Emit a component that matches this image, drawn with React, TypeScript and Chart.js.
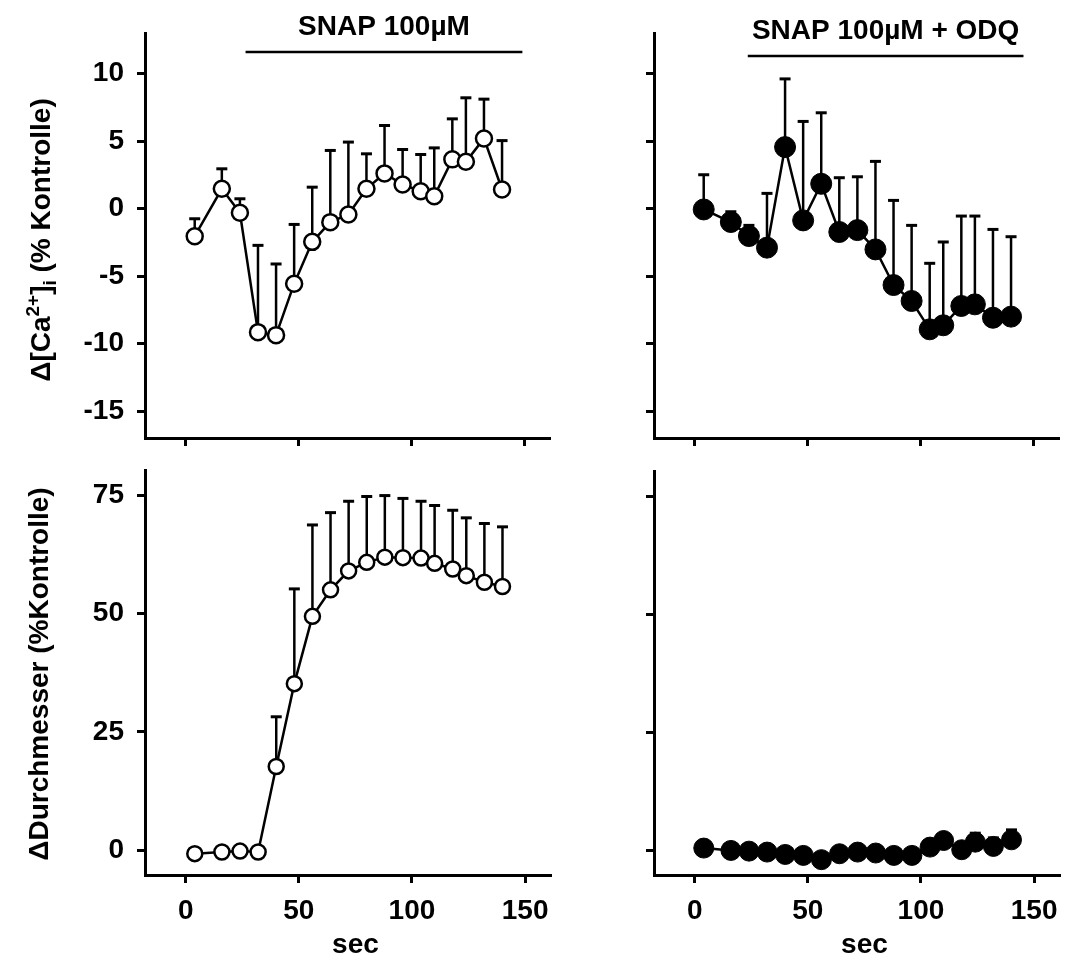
import React, { useEffect, useRef } from "react";
import { Chart, registerables } from "chart.js";

Chart.register(...registerables);

// ---------- data ----------
const timeSec = [4, 16, 24, 32, 40, 48, 56, 64, 72, 80, 88, 96, 104, 110, 118, 124, 132, 140];

const caSnapMean = [-2.05, 1.46, -0.32, -9.16, -9.38, -5.57, -2.47, -1.01, -0.44, 1.46, 2.6, 1.78, 1.28, 0.91, 3.64, 3.46, 5.19, 1.41];
const caSnapSem = [1.29, 1.48, 1.04, 6.43, 5.27, 4.39, 4.05, 5.31, 5.36, 2.59, 3.55, 2.59, 2.72, 3.58, 3.0, 4.74, 2.91, 3.62];

const caOdqMean = [-0.07, -1.0, -2.04, -2.9, 4.55, -0.88, 1.83, -1.74, -1.6, -3.03, -5.67, -6.85, -8.95, -8.65, -7.22, -7.1, -8.09, -8.01];
const caOdqSem = [2.57, 0.76, 0.79, 4.02, 5.05, 7.33, 5.26, 4.02, 3.95, 6.52, 6.27, 5.6, 4.89, 6.17, 6.66, 6.54, 6.54, 5.92];

const diamSnapMean = [-0.7, -0.35, -0.15, -0.35, 17.7, 35.2, 49.4, 55.0, 59.0, 60.8, 61.9, 61.8, 61.7, 60.6, 59.4, 58.0, 56.6, 55.7];
const diamSnapSem = [0.5, 0.5, 0.5, 0.5, 10.5, 20.0, 19.3, 16.3, 14.7, 13.9, 13.0, 12.5, 12.0, 12.2, 12.4, 12.2, 12.4, 12.6];

const diamOdqMean = [0.5, 0, -0.15, -0.35, -0.85, -1.05, -1.95, -0.7, -0.35, -0.55, -1.05, -1.05, 0.7, 2.1, 0.15, 1.75, 0.85, 2.25];
const diamOdqSem = [0.5, 0.5, 0.5, 0.5, 0.5, 0.5, 0.5, 0.5, 0.5, 0.5, 0.5, 0.5, 0.5, 0.5, 0.5, 1.9, 1.8, 2.1];

const timeTicks = [0, 50, 100, 150];
const caTicks = [-15, -10, -5, 0, 5, 10];
const diamTicks = [0, 25, 50, 75];

const snapPeriod = [26.5, 149];
const odqPeriod = [23.5, 145.5];

const snapTitle = "SNAP 100µM";
const odqTitle = "SNAP 100µM + ODQ";
const xAxisTitle = "sec";

// ---------- styling ----------
const FONT = '"Liberation Sans", Arial, Helvetica, sans-serif';
const SIZE = 28;
const fontStr = (size: number) => `bold ${size}px ${FONT}`;

type Run = { text: string; size: number; dy: number };
type Area = { left: number; top: number; right: number; bottom: number };
type PanelProps = {
  pos: { left: number; top: number; width: number; height: number };
  area: Area;
  yMin: number;
  yMax: number;
  yTicks: number[];
  mean: number[];
  sem: number[];
  filled: boolean;
  radius: number;
  showXLabels: boolean;
  showYLabels: boolean;
  yTitle?: { runs: Run[]; baselineX: number; centerY: number };
  header?: { text: string; period: number[]; barY: number; textBaseline: number };
  xTitle?: { text: string; at: number; baseline: number };
};

function drawRuns(ctx: CanvasRenderingContext2D, runs: Run[]) {
  let w = 0;
  for (const r of runs) {
    ctx.font = fontStr(r.size);
    w += ctx.measureText(r.text).width;
  }
  let x = -w / 2;
  ctx.textAlign = "left";
  ctx.textBaseline = "alphabetic";
  for (const r of runs) {
    ctx.font = fontStr(r.size);
    ctx.fillText(r.text, x, r.dy);
    x += ctx.measureText(r.text).width;
  }
}

function Panel(p: PanelProps) {
  const ref = useRef<HTMLCanvasElement>(null);
  useEffect(() => {
    const canvas = ref.current;
    if (!canvas) return;
    const tickFont = { family: FONT, size: SIZE, weight: "bold" as const };
    const gridOpts = {
      display: true,
      drawOnChartArea: false,
      drawTicks: true,
      tickLength: 8,
      tickWidth: 3,
      tickColor: "#000",
      color: "#000",
      lineWidth: 3,
    };
    const decor = {
      id: "decor",
      beforeDatasetsDraw(chart: any) {
        const ctx: CanvasRenderingContext2D = chart.ctx;
        const x = chart.scales.x;
        const y = chart.scales.y;
        ctx.save();
        ctx.strokeStyle = "#000";
        p.mean.forEach((m, i) => {
          const px = x.getPixelForValue(timeSec[i]);
          const y0 = y.getPixelForValue(m);
          const y1 = y.getPixelForValue(m + p.sem[i]);
          ctx.lineWidth = 2.5;
          ctx.beginPath();
          ctx.moveTo(px, y0);
          ctx.lineTo(px, y1);
          ctx.stroke();
          ctx.lineWidth = 3;
          ctx.beginPath();
          ctx.moveTo(px - 5.5, y1);
          ctx.lineTo(px + 5.5, y1);
          ctx.stroke();
        });
        ctx.restore();
      },
      afterDraw(chart: any) {
        const ctx: CanvasRenderingContext2D = chart.ctx;
        const x = chart.scales.x;
        ctx.save();
        ctx.fillStyle = "#000";
        ctx.strokeStyle = "#000";
        if (p.header) {
          const h = p.header;
          const x0 = x.getPixelForValue(h.period[0]);
          const x1 = x.getPixelForValue(h.period[1]);
          ctx.lineWidth = 2.5;
          ctx.beginPath();
          ctx.moveTo(x0, h.barY);
          ctx.lineTo(x1, h.barY);
          ctx.stroke();
          ctx.save();
          ctx.translate((x0 + x1) / 2, h.textBaseline);
          drawRuns(ctx, [{ text: h.text, size: SIZE, dy: 0 }]);
          ctx.restore();
        }
        if (p.yTitle) {
          const t = p.yTitle;
          ctx.save();
          ctx.translate(t.baselineX, t.centerY);
          ctx.rotate(-Math.PI / 2);
          drawRuns(ctx, t.runs);
          ctx.restore();
        }
        if (p.xTitle) {
          const t = p.xTitle;
          ctx.save();
          ctx.translate(x.getPixelForValue(t.at), t.baseline);
          drawRuns(ctx, [{ text: t.text, size: SIZE, dy: 0 }]);
          ctx.restore();
        }
        ctx.restore();
      },
    };

    const chart = new Chart(canvas, {
      type: "line",
      data: {
        datasets: [
          {
            data: timeSec.map((t, i) => ({ x: t, y: p.mean[i] })),
            borderColor: "#000",
            borderWidth: 2.5,
            pointRadius: p.radius,
            pointHoverRadius: p.radius,
            pointBorderWidth: p.filled ? 1 : 2.5,
            pointBorderColor: "#000",
            pointBackgroundColor: p.filled ? "#000" : "#fff",
            tension: 0,
            fill: false,
            clip: false as any,
          },
        ],
      },
      options: {
        animation: false,
        responsive: false,
        devicePixelRatio: 1,
        events: [],
        layout: {
          padding: {
            left: 0,
            top: p.area.top,
            right: p.pos.width - p.area.right,
            bottom: 0,
          },
        },
        plugins: {
          legend: { display: false },
          tooltip: { enabled: false },
          title: { display: false },
        },
        scales: {
          x: {
            type: "linear",
            min: -18,
            max: 161,
            afterBuildTicks: (s: any) => {
              s.ticks = timeTicks.map((v) => ({ value: v }));
            },
            afterFit: (s: any) => {
              s.height = p.pos.height - p.area.bottom;
              s.paddingLeft = 0;
              s.paddingRight = 0;
            },
            ticks: {
              display: p.showXLabels,
              font: tickFont,
              color: "#000",
              padding: 11,
              maxRotation: 0,
              autoSkip: false,
            },
            grid: gridOpts,
            border: { display: true, color: "#000", width: 3 },
          },
          y: {
            type: "linear",
            min: p.yMin,
            max: p.yMax,
            afterBuildTicks: (s: any) => {
              s.ticks = p.yTicks.map((v) => ({ value: v }));
            },
            afterFit: (s: any) => {
              s.width = p.area.left;
              s.paddingTop = 0;
              s.paddingBottom = 0;
            },
            ticks: {
              display: p.showYLabels,
              font: tickFont,
              color: "#000",
              padding: 13,
              autoSkip: false,
            },
            grid: gridOpts,
            border: { display: true, color: "#000", width: 3 },
          },
        },
      },
      plugins: [decor],
    } as any);
    return () => chart.destroy();
  }, []);
  return (
    <canvas
      ref={ref}
      width={p.pos.width}
      height={p.pos.height}
      style={{
        position: "absolute",
        left: p.pos.left,
        top: p.pos.top,
        width: p.pos.width,
        height: p.pos.height,
      }}
    />
  );
}

const caRuns: Run[] = [
  { text: "Δ[Ca", size: SIZE, dy: 0 },
  { text: "2+", size: 19, dy: -11 },
  { text: "]", size: SIZE, dy: 0 },
  { text: "i", size: 19, dy: 6 },
  { text: " (% Kontrolle)", size: SIZE, dy: 0 },
];
const diamRuns: Run[] = [{ text: "ΔDurchmesser (%Kontrolle)", size: SIZE, dy: 0 }];

export default function App() {
  return (
    <div
      style={{
        position: "absolute",
        left: 0,
        top: 0,
        width: 1070,
        height: 959,
        background: "#fff",
        overflow: "hidden",
      }}
    >
      <Panel
        pos={{ left: 0, top: 0, width: 560, height: 460 }}
        area={{ left: 145, top: 33, right: 552, bottom: 438 }}
        yMin={-17}
        yMax={13}
        yTicks={caTicks}
        mean={caSnapMean}
        sem={caSnapSem}
        filled={false}
        radius={8}
        showXLabels={false}
        showYLabels={true}
        yTitle={{ runs: caRuns, baselineX: 50, centerY: 240 }}
        header={{ text: snapTitle, period: snapPeriod, barY: 52, textBaseline: 35 }}
      />
      <Panel
        pos={{ left: 560, top: 0, width: 510, height: 460 }}
        area={{ left: 94, top: 33, right: 501, bottom: 438 }}
        yMin={-17}
        yMax={13}
        yTicks={caTicks}
        mean={caOdqMean}
        sem={caOdqSem}
        filled={true}
        radius={10.5}
        showXLabels={false}
        showYLabels={false}
        header={{ text: odqTitle, period: odqPeriod, barY: 56, textBaseline: 39 }}
      />
      <Panel
        pos={{ left: 0, top: 460, width: 560, height: 499 }}
        area={{ left: 145, top: 8, right: 552, bottom: 415 }}
        yMin={-5.2}
        yMax={80.3}
        yTicks={diamTicks}
        mean={diamSnapMean}
        sem={diamSnapSem}
        filled={false}
        radius={7.5}
        showXLabels={true}
        showYLabels={true}
        yTitle={{ runs: diamRuns, baselineX: 48, centerY: 214 }}
        xTitle={{ text: xAxisTitle, at: 75, baseline: 493 }}
      />
      <Panel
        pos={{ left: 560, top: 460, width: 510, height: 499 }}
        area={{ left: 94, top: 8, right: 501, bottom: 415 }}
        yMin={-5.2}
        yMax={80.3}
        yTicks={diamTicks}
        mean={diamOdqMean}
        sem={diamOdqSem}
        filled={true}
        radius={10}
        showXLabels={true}
        showYLabels={false}
        xTitle={{ text: xAxisTitle, at: 75, baseline: 493 }}
      />
    </div>
  );
}
